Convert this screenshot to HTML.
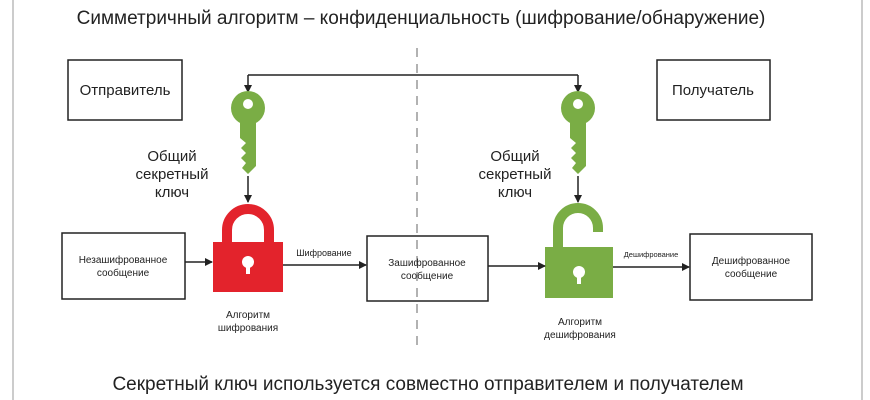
<!DOCTYPE html>
<html><head><meta charset="utf-8"><style>
html,body{margin:0;padding:0;background:#fff;}
svg{display:block;font-family:"Liberation Sans",sans-serif;}
</style></head><body>
<svg width="870" height="400" viewBox="0 0 870 400">
<defs>
<marker id="a" markerWidth="8" markerHeight="8" refX="7" refY="4" orient="auto" markerUnits="userSpaceOnUse"><path d="M0,0 L8,4 L0,8 z" fill="#222"/></marker>
<g id="key">
<circle cx="0" cy="0" r="17"/>
<path d="M-8,10 L8,10 L8,58 L0,66 L-6,60 L-2,55 L-7,50 L-2,45 L-7,40 L-2,35 L-8,30 z"/>
</g>
</defs>
<line x1="13" y1="0" x2="13" y2="400" stroke="#ccc" stroke-width="2"/>
<line x1="862" y1="0" x2="862" y2="400" stroke="#ccc" stroke-width="2"/>
<text x="421" y="24" font-size="19" text-anchor="middle" fill="#222">Симметричный алгоритм – конфиденциальность (шифрование/обнаружение)</text>
<line x1="417" y1="48" x2="417" y2="345" stroke="#999" stroke-width="1.5" stroke-dasharray="9,7"/>
<rect x="68" y="60" width="114" height="60" fill="none" stroke="#222" stroke-width="1.5"/>
<text x="125" y="95" font-size="15" text-anchor="middle" fill="#222">Отправитель</text>
<rect x="657" y="60" width="113" height="60" fill="none" stroke="#222" stroke-width="1.5"/>
<text x="713" y="95" font-size="15" text-anchor="middle" fill="#222">Получатель</text>
<polyline points="248,75 578,75" fill="none" stroke="#222" stroke-width="1.5"/>
<line x1="248" y1="75" x2="248" y2="92" stroke="#222" stroke-width="1.5" marker-end="url(#a)"/>
<line x1="578" y1="75" x2="578" y2="92" stroke="#222" stroke-width="1.5" marker-end="url(#a)"/>
<g fill="#7aad45"><use href="#key" x="248" y="108"/><use href="#key" x="578" y="108"/></g>
<circle cx="248" cy="104" r="5" fill="#fff"/><circle cx="578" cy="104" r="5" fill="#fff"/>
<line x1="248" y1="176" x2="248" y2="202" stroke="#222" stroke-width="1.5" marker-end="url(#a)"/>
<line x1="578" y1="176" x2="578" y2="202" stroke="#222" stroke-width="1.5" marker-end="url(#a)"/>
<g font-size="15" text-anchor="middle" fill="#222">
<text x="172" y="161">Общий</text><text x="172" y="179">секретный</text><text x="172" y="197">ключ</text>
<text x="515" y="161">Общий</text><text x="515" y="179">секретный</text><text x="515" y="197">ключ</text>
</g>
<path d="M227,243 L227,230 A21,21 0 0 1 269,230 L269,243" fill="none" stroke="#e3232c" stroke-width="10"/>
<rect x="213" y="242" width="70" height="50" fill="#e3232c"/>
<circle cx="248" cy="262" r="6" fill="#fff"/><rect x="246" y="263" width="4" height="11" fill="#fff"/>
<path d="M558,248 L558,228 A20,20 0 0 1 598,228 L598,232" fill="none" stroke="#7aad45" stroke-width="10"/>
<rect x="545" y="247" width="68" height="51" fill="#7aad45"/>
<circle cx="579" cy="272" r="6" fill="#fff"/><rect x="577" y="273" width="4" height="11" fill="#fff"/>
<rect x="62" y="233" width="123" height="66" fill="none" stroke="#222" stroke-width="1.5"/>
<rect x="367" y="236" width="121" height="65" fill="none" stroke="#222" stroke-width="1.5"/>
<rect x="690" y="234" width="122" height="66" fill="none" stroke="#222" stroke-width="1.5"/>
<g font-size="10" text-anchor="middle" fill="#222">
<text x="123" y="263">Незашифрованное</text><text x="123" y="276">сообщение</text>
<text x="427" y="266">Зашифрованное</text><text x="427" y="279">сообщение</text>
<text x="751" y="264">Дешифрованное</text><text x="751" y="277">сообщение</text>
<text x="248" y="318">Алгоритм</text><text x="248" y="331">шифрования</text>
<text x="580" y="325">Алгоритм</text><text x="580" y="338">дешифрования</text>
</g>
<text x="324" y="256" font-size="9" text-anchor="middle" fill="#222">Шифрование</text>
<text x="651" y="257" font-size="7.5" text-anchor="middle" fill="#222">Дешифрование</text>
<line x1="185" y1="262" x2="212" y2="262" stroke="#222" stroke-width="1.5" marker-end="url(#a)"/>
<line x1="283" y1="265" x2="366" y2="265" stroke="#222" stroke-width="1.5" marker-end="url(#a)"/>
<line x1="488" y1="266" x2="545" y2="266" stroke="#222" stroke-width="1.5" marker-end="url(#a)"/>
<line x1="613" y1="267" x2="689" y2="267" stroke="#222" stroke-width="1.5" marker-end="url(#a)"/>
<text x="428" y="390" font-size="19" text-anchor="middle" fill="#222">Секретный ключ используется совместно отправителем и получателем</text>
</svg>
</body></html>
